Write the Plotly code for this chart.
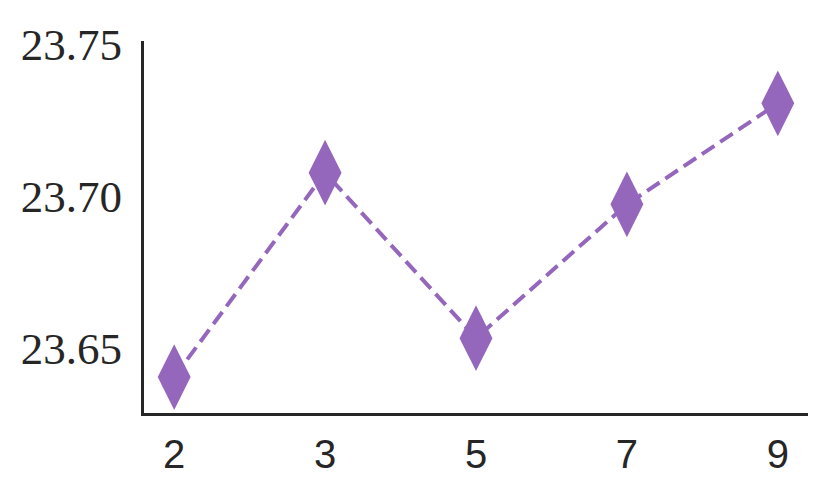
import plotly.graph_objects as go

# data
categories = ["2", "3", "5", "7", "9"]
values = [23.6406, 23.7078, 23.6534, 23.6974, 23.7306]
y_ticks = [23.65, 23.70, 23.75]
y_tick_labels = ["23.65", "23.70", "23.75"]

purple = "#9467bd"
axis_col = "#262626"

fig = go.Figure(go.Scatter(
    x=categories,
    y=values,
    mode="lines+markers",
    line=dict(color=purple, width=4, dash="15px,7px"),
    marker=dict(symbol="diamond-tall", size=47, color=purple, line=dict(width=0)),
    showlegend=False,
))

# page body adds 8px offset, margins compensate
fig.update_layout(
    width=829, height=496,
    margin=dict(l=136, r=29, t=27, b=91),
    plot_bgcolor="white", paper_bgcolor="white",
)
fig.update_xaxes(
    type="category", range=[-0.2, 4.2],
    showline=True, linecolor=axis_col, linewidth=3,
    showgrid=False, zeroline=False, ticks="",
    ticklabelstandoff=4,
    tickfont=dict(family="Liberation Sans", size=40, color=axis_col),
)
fig.update_yaxes(
    range=[23.6288, 23.7511],
    tickvals=y_ticks, ticktext=y_tick_labels,
    showline=True, linecolor=axis_col, linewidth=3,
    showgrid=False, zeroline=False, ticks="",
    ticklabelstandoff=10,
    tickfont=dict(family="Liberation Serif", size=45, color=axis_col),
)

fig.write_html("out.html")
